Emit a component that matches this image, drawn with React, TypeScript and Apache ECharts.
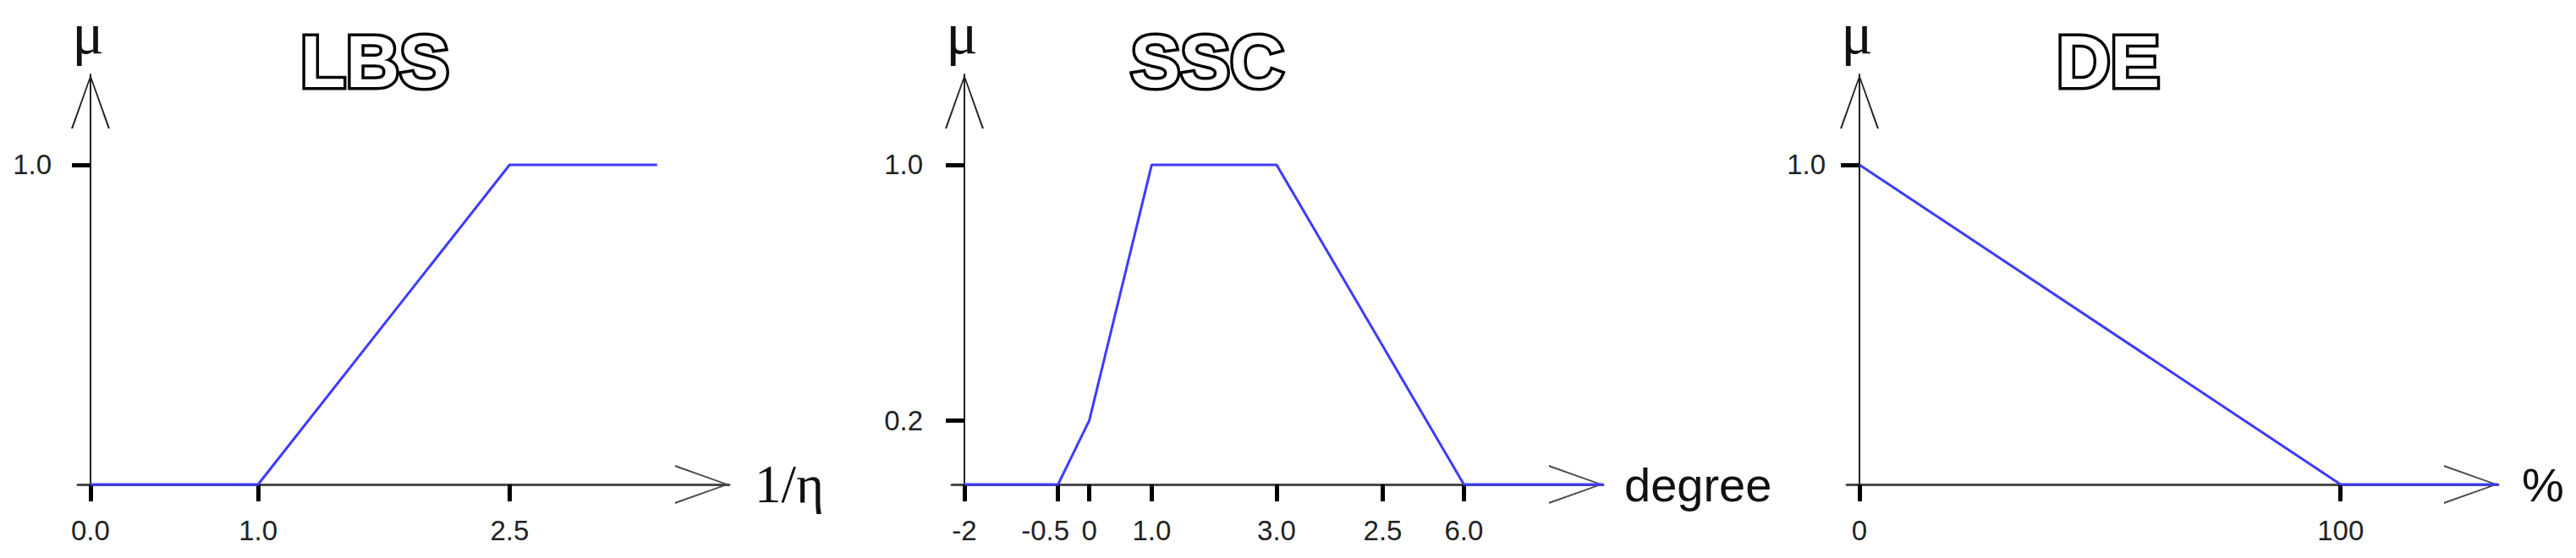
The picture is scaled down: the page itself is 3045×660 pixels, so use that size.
import React, { useEffect, useRef } from "react";
import * as echarts from "echarts";

// ---- data ----
const titles = ["LBS", "SSC", "DE"];
const xNames = ["1/η", "degree", "%"];

const lbsX = [0, 1, 2.5, 3.38];
const lbsY = [0, 0, 1, 1];
const sscX = [-2, -0.5, 0, 1, 3, 6, 8.23];
const sscY = [0, 0, 0.2, 1, 1, 0, 0];
const deX = [0, 100, 132.75];
const deY = [1, 0, 0];

const lbsTickValues = [0, 1, 2.5];
const lbsTickLabels = ["0.0", "1.0", "2.5"];
const sscTickValues = [-2, -0.5, 0, 1, 3, 4.7, 6];
const sscTickLabels = ["-2", "-0.5", "0", "1.0", "3.0", "2.5", "6.0"];
const deTickValues = [0, 100];
const deTickLabels = ["0", "100"];

const lbsYTicks = [1];
const sscYTicks = [0.2, 1];
const deYTicks = [1];

const xRanges = [
  [-0.075, 3.81],
  [-2.203, 8.23],
  [-2.64, 132.75],
];
const yMax = 1.283;

// labels that sit left of their tick in the reference (style only)
const shiftedLabels = ["-0.5"];

const ARROW = "path://M23,0 L46,64 L43.8,64 L23,5 L2.2,64 L0,64 Z";

export default function App() {
  const ref = useRef<HTMLDivElement>(null);
  useEffect(() => {
    document.body.style.margin = "0";
    const chart = echarts.init(ref.current!, null, { renderer: "svg" });

    const series = [
      { x: lbsX, y: lbsY },
      { x: sscX, y: sscY },
      { x: deX, y: deY },
    ];
    const tickVals = [lbsTickValues, sscTickValues, deTickValues];
    const tickLabs = [lbsTickLabels, sscTickLabels, deTickLabels];
    const yTicks = [lbsYTicks, sscYTicks, deYTicks];
    const gridLefts = [92, 1125, 2183];
    const titleX = [443, 1427, 2492];
    const yLabelMargins = [46, 49, 40];
    const xNameGaps = [30, 25, 28];
    const xNameFonts = [
      { fontFamily: "Liberation Serif", fontSize: 63 },
      { fontFamily: "Liberation Sans", fontSize: 56 },
      { fontFamily: "Liberation Sans", fontSize: 56 },
    ];
    const labelFont = {
      color: "#222",
      fontFamily: "Liberation Sans",
      fontSize: 33,
    };

    const grid = gridLefts.map((l) => ({
      left: l,
      top: 88,
      width: 770,
      height: 485,
      outerBoundsMode: "none",
      containLabel: false,
    }));

    const xAxis = [0, 1, 2].map((i) => ({
      type: "value",
      gridIndex: i,
      min: xRanges[i][0],
      max: xRanges[i][1],
      splitLine: { show: false },
      name: xNames[i],
      nameLocation: "end",
      nameGap: xNameGaps[i],
      nameTextStyle: { color: "#111", ...xNameFonts[i] },
      axisLine: {
        show: true,
        onZero: false,
        symbol: ["none", ARROW],
        symbolSize: [46, 64],
        symbolOffset: [0, -32],
        lineStyle: { color: "#4a4a4a", width: 3 },
      },
      axisTick: {
        show: true,
        inside: false,
        length: 20,
        customValues: tickVals[i],
        lineStyle: { color: "#000", width: 5 },
      },
      axisLabel: {
        show: true,
        customValues: tickVals[i],
        margin: 38,
        ...labelFont,
        rich: {
          s: { ...labelFont, padding: [0, 30, 0, 0] },
        },
        formatter: (v: number) => {
          const k = tickVals[i].findIndex((t) => Math.abs(t - v) < 1e-6);
          if (k < 0) return "";
          const lab = tickLabs[i][k];
          return shiftedLabels.includes(lab) ? `{s|${lab}}` : lab;
        },
      },
    }));

    const yAxis = [0, 1, 2].map((i) => ({
      type: "value",
      gridIndex: i,
      min: 0,
      max: yMax,
      offset: -15,
      splitLine: { show: false },
      name: "μ",
      nameLocation: "end",
      nameGap: 19,
      nameTextStyle: {
        color: "#111",
        fontFamily: "Liberation Serif",
        fontSize: 70,
        lineHeight: 60,
        padding: [0, 6, 0, 0],
      },
      axisLine: {
        show: true,
        onZero: false,
        symbol: ["none", ARROW],
        symbolSize: [46, 64],
        symbolOffset: [0, -32],
        lineStyle: { color: "#222", width: 2 },
      },
      axisTick: {
        show: true,
        inside: false,
        length: 22,
        customValues: yTicks[i],
        lineStyle: { color: "#000", width: 5 },
      },
      axisLabel: {
        show: true,
        customValues: yTicks[i],
        margin: yLabelMargins[i],
        ...labelFont,
        formatter: (v: number) => v.toFixed(1),
      },
    }));

    const lineSeries = series.map((s, i) => ({
      type: "line",
      xAxisIndex: i,
      yAxisIndex: i,
      data: s.x.map((x, k) => [x, s.y[k]]),
      showSymbol: false,
      symbol: "none",
      clip: false,
      z: 5,
      lineStyle: { color: "#3c3cff", width: 3 },
    }));

    const graphic = titles.map((t, i) => ({
      type: "text",
      x: titleX[i],
      y: 72,
      z: 10,
      style: {
        text: t,
        align: "center",
        verticalAlign: "middle",
        font: "bold 88px 'Liberation Sans', Arial, sans-serif",
        fill: "#fff",
        stroke: "#000",
        lineWidth: 7,
      },
    }));

    chart.setOption({
      animation: false,
      backgroundColor: "#fff",
      textStyle: { fontFamily: "Liberation Sans" },
      grid,
      xAxis,
      yAxis,
      series: lineSeries,
      graphic,
    } as any);

    return () => chart.dispose();
  }, []);

  return <div ref={ref} style={{ width: 3045, height: 660 }} />;
}
